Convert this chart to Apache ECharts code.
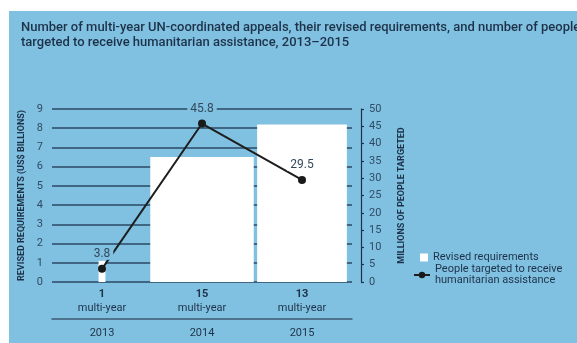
<!DOCTYPE html>
<html>
<head>
<meta charset="utf-8">
<script src="https://cdn.jsdelivr.net/npm/echarts@6/dist/echarts.min.js"></script>
<style>
  html, body { margin: 0; padding: 0; background: #fff; }
  #chart { width: 577px; height: 343px; }
</style>
</head>
<body>
<div id="chart"></div>
<script>
// 多年期联合呼吁：资金需求 + 目标人数
const years = ['2013', '2014', '2015'];
const appeals = [1, 15, 13];
const requirements = [1.1, 6.5, 8.2];
const peopleTargeted = [3.8, 45.8, 29.5];
const leftTicks = [0, 9, 1];
const rightTicks = [0, 50, 5];

const bgBlue = '#80c0e0';
const navy = '#1d3249';
const tickColor = '#2f4b66';
const font = 'Roboto';

const chart = echarts.init(document.getElementById('chart'));

// 标签落在白色柱子里时用白底，否则用蓝底遮住网格线
const labelBg = peopleTargeted.map((p, i) =>
    (p + 5.5) / rightTicks[1] < requirements[i] / leftTicks[1] ? '#ffffff' : bgBlue);

const option = {
    backgroundColor: '#fff',
    textStyle: { fontFamily: font },
    graphic: [{
        type: 'rect',
        left: 9, top: 11, z: -10,
        shape: { width: 568, height: 332 },
        style: { fill: bgBlue }
    }],
    title: {
        text: 'Number of multi-year UN-coordinated appeals, their revised requirements, and number of people\ntargeted to receive humanitarian assistance, 2013\u20132015',
        left: 16, top: 15,
        textStyle: { fontSize: 13, fontWeight: 500, color: navy, lineHeight: 15, fontFamily: font }
    },
    legend: [{
        data: [{ name: 'Revised requirements', icon: 'rect' }],
        left: 420, top: 252,
        padding: 0,
        itemWidth: 8, itemHeight: 8,
        textStyle: { color: navy, fontSize: 11, fontFamily: font }
    }, {
        data: ['People targeted to receive humanitarian assistance'],
        left: 413, top: 264,
        padding: 0,
        itemWidth: 16, itemHeight: 8,
        formatter: () => 'People targeted to receive\nhumanitarian assistance',
        textStyle: { color: navy, fontSize: 11, lineHeight: 11, fontFamily: font }
    }],
    grid: { left: 52, right: 225, top: 109, bottom: 61 },
    xAxis: [{
        type: 'category',
        data: years,
        axisLine: { show: false },
        axisTick: { show: false },
        axisLabel: {
            margin: 5,
            formatter: (v, i) => `{n|${appeals[i]}}\n{m|multi-year}`,
            rich: {
                n: { fontSize: 11, fontWeight: 'bold', color: navy, lineHeight: 14, fontFamily: font },
                m: { fontSize: 11, color: navy, lineHeight: 14, fontFamily: font }
            }
        }
    }, {
        type: 'category',
        data: years,
        position: 'bottom',
        offset: 37,
        axisLine: { show: true, onZero: false, lineStyle: { color: '#3c5a74', width: 1.5 } },
        axisTick: { show: false },
        axisLabel: { margin: 9, fontSize: 11, color: navy, fontFamily: font }
    }],
    yAxis: [{
        type: 'value',
        min: leftTicks[0], max: leftTicks[1], interval: leftTicks[2],
        name: 'REVISED REQUIREMENTS (US$ BILLIONS)',
        nameLocation: 'middle',
        nameGap: 26,
        nameTextStyle: { fontSize: 9, fontWeight: 'bold', color: navy, fontFamily: font },
        axisLine: { show: false },
        axisTick: { show: false },
        axisLabel: { margin: 9, fontSize: 11, color: tickColor, fontFamily: font },
        splitLine: { show: true, lineStyle: { color: '#2a4a66', width: 1.5 } }
    }, {
        type: 'value',
        position: 'right',
        offset: 9,
        min: rightTicks[0], max: rightTicks[1], interval: rightTicks[2],
        name: 'MILLIONS OF PEOPLE TARGETED',
        nameLocation: 'middle',
        nameGap: 36,
        nameTextStyle: { fontSize: 9, fontWeight: 'bold', color: navy, fontFamily: font },
        axisLine: { show: true, lineStyle: { color: navy, width: 1.2 } },
        axisTick: { show: true, length: 3, lineStyle: { color: navy, width: 1.2 } },
        axisLabel: { margin: 8, fontSize: 11, color: tickColor, fontFamily: font },
        splitLine: { show: false }
    }],
    series: [{
        name: 'Revised requirements',
        type: 'pictorialBar',
        symbol: 'rect',
        symbolPosition: 'start',
        itemStyle: { color: '#ffffff' },
        // 柱宽按呼吁数量
        data: requirements.map((v, i) => ({ value: v, symbolSize: [appeals[i] * 6.9, '100%'] })),
        z: 2
    }, {
        name: 'People targeted to receive humanitarian assistance',
        type: 'line',
        yAxisIndex: 1,
        data: peopleTargeted.map((v, i) => ({ value: v, label: { backgroundColor: labelBg[i] } })),
        symbol: 'circle',
        symbolSize: 8,
        color: '#1a1a1a',
        lineStyle: { color: '#1e1e1e', width: 2 },
        itemStyle: { color: '#1a1a1a' },
        label: {
            show: true,
            position: 'top',
            distance: 5,
            fontSize: 12,
            color: '#34485c',
            fontFamily: font,
            padding: [0, 3]
        },
        z: 5
    }],
    animation: false
};

chart.setOption(option);
</script>
</body>
</html>
